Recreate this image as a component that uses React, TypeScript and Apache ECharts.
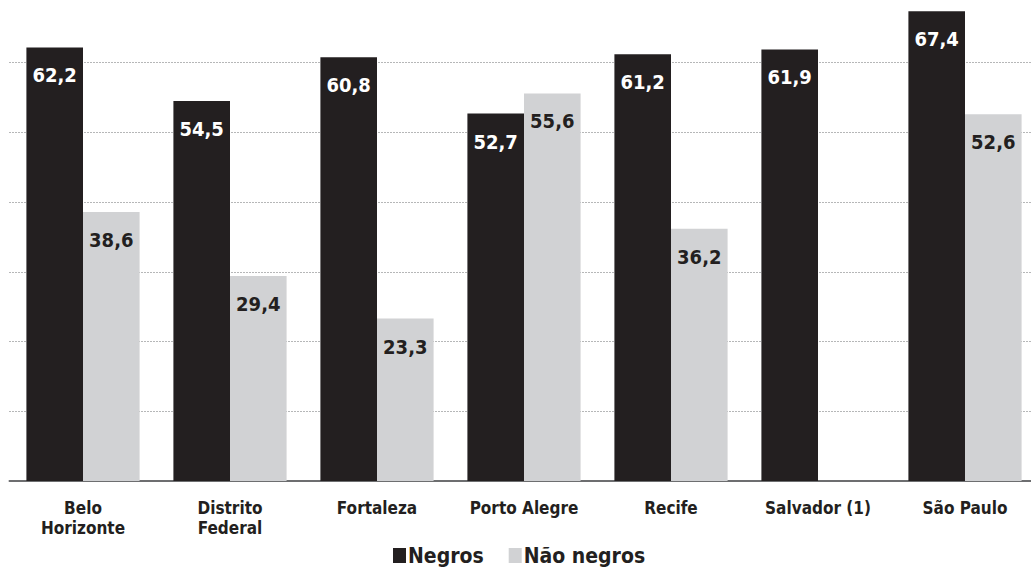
import React, { useEffect, useRef } from "react";
import * as echarts from "echarts";

const categories = ["Belo\nHorizonte", "Distrito\nFederal", "Fortaleza", "Porto Alegre", "Recife", "Salvador (1)", "São Paulo"];
const negros = [62.2, 54.5, 60.8, 52.7, 61.2, 61.9, 67.4];
const naoNegros: (number | null)[] = [38.6, 29.4, 23.3, 55.6, 36.2, null, 52.6];
const seriesNames = ["Negros", "Não negros"];

const FONT = "'Liberation Sans Narrow', 'DejaVu Sans Condensed', 'Open Sans', sans-serif";
const fmt = (v: number) => v.toFixed(1).replace(".", ",");

export default function App() {
  const ref = useRef<HTMLDivElement>(null);
  useEffect(() => {
    const chart = echarts.init(ref.current!, undefined, { renderer: "svg" });
    chart.setOption({
      animation: false,
      backgroundColor: "#ffffff",
      grid: { left: 9.5, right: 0.5, top: 0, bottom: 90, containLabel: false },
      legend: {
        bottom: 0,
        left: 388,
        icon: "rect",
        itemWidth: 13,
        itemHeight: 15,
        itemGap: 25,
        textStyle: { fontFamily: FONT, fontWeight: "bold", fontSize: 21, color: "#231f20", padding: [0, 0, 0, -3] },
        data: seriesNames,
      },
      xAxis: {
        type: "category",
        data: categories,
        axisLine: { lineStyle: { color: "#6d6e70", width: 2 } },
        axisTick: { show: false },
        axisLabel: {
          interval: 0,
          margin: 17,
          fontFamily: FONT,
          fontWeight: "bold",
          fontSize: 17,
          lineHeight: 20,
          color: "#231f20",
        },
      },
      yAxis: {
        type: "value",
        min: 0,
        max: 70,
        interval: 10,
        axisLabel: { show: false },
        axisLine: { show: false },
        axisTick: { show: false },
        splitLine: { lineStyle: { color: "#6d6e70", type: [1, 2], width: 1 } },
      },
      series: [
        {
          name: seriesNames[0],
          type: "bar",
          data: negros,
          barGap: "0%",
          barCategoryGap: "23%",
          itemStyle: { color: "#231f20" },
          label: {
            show: true,
            position: "insideTop",
            distance: 18,
            color: "#ffffff",
            fontFamily: FONT,
            fontWeight: "bold",
            fontSize: 20,
            formatter: (p: any) => fmt(p.value),
          },
        },
        {
          name: seriesNames[1],
          type: "bar",
          data: naoNegros,
          itemStyle: { color: "#d1d2d4" },
          label: {
            show: true,
            position: "insideTop",
            distance: 18,
            color: "#231f20",
            fontFamily: FONT,
            fontWeight: "bold",
            fontSize: 20,
            formatter: (p: any) => (p.value == null ? "" : fmt(p.value)),
          },
        },
      ],
    });
    return () => chart.dispose();
  }, []);
  return <div ref={ref} style={{ position: "fixed", left: 0, top: -7.4, width: 1039, height: 578.4 }} />;
}
